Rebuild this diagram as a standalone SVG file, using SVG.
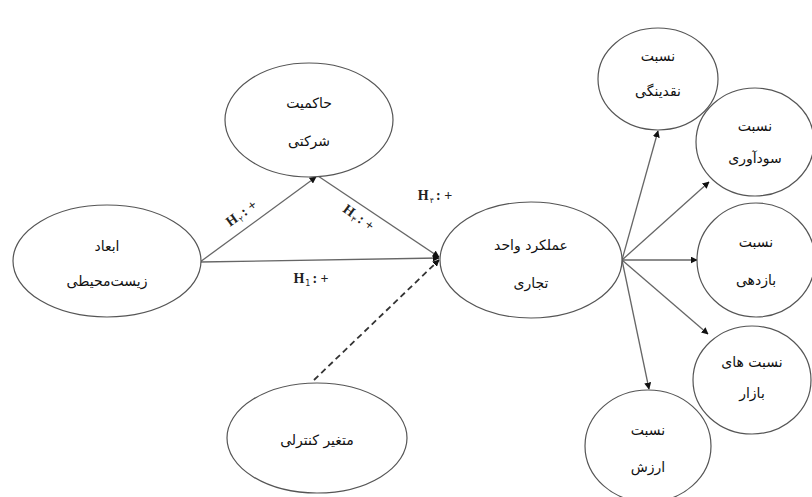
<svg xmlns="http://www.w3.org/2000/svg" width="812" height="497" viewBox="0 0 812 497">
<defs>
<marker id="ah" viewBox="0 0 10 10" refX="9" refY="5" markerWidth="7" markerHeight="7" orient="auto" markerUnits="userSpaceOnUse">
<path d="M0,0 L10,5 L0,10 z" fill="#111"/>
</marker>
<style>
.n{fill:#fff;stroke:#555;stroke-width:1.2}
.t{font-family:"DejaVu Sans",sans-serif;font-size:14px;fill:#111;text-anchor:middle;dominant-baseline:central}
.c{stroke:#666;stroke-width:1.3;fill:none}
.d{stroke:#333;stroke-width:1.8;fill:none;stroke-dasharray:6,4}
.h{font-family:"Liberation Serif","DejaVu Serif",serif;font-size:14px;font-weight:bold;fill:#222}
.s{font-family:"DejaVu Sans",sans-serif;font-size:8px;font-weight:normal}
</style>
</defs>
<rect width="812" height="497" fill="#fff"/>
<g id="connectors">
<line class="c" x1="200" y1="262" x2="316" y2="177" marker-end="url(#ah)"/>
<line class="c" x1="200" y1="262" x2="439" y2="258" marker-end="url(#ah)"/>
<line class="c" x1="318" y1="176" x2="439" y2="257" marker-end="url(#ah)"/>
<line class="d" x1="314" y1="380" x2="439" y2="260" marker-end="url(#ah)"/>
<line class="c" x1="622" y1="260" x2="658" y2="131" marker-end="url(#ah)"/>
<line class="c" x1="622" y1="260" x2="709" y2="182" marker-end="url(#ah)"/>
<line class="c" x1="622" y1="260" x2="697" y2="260" marker-end="url(#ah)"/>
<line class="c" x1="622" y1="260" x2="708" y2="334" marker-end="url(#ah)"/>
<line class="c" x1="622" y1="260" x2="649" y2="389" marker-end="url(#ah)"/>
<text class="h" transform="translate(244,217) rotate(-36)" text-anchor="middle">H<tspan class="s" dx="1" dy="3">۲</tspan><tspan dx="2" dy="-3">: +</tspan></text>
<text class="h" transform="translate(356,221) rotate(36)" text-anchor="middle">H<tspan class="s" dx="1" dy="3">۳</tspan><tspan dx="2" dy="-3">: +</tspan></text>
<text class="h" x="435" y="200" text-anchor="middle">H<tspan class="s" dx="1" dy="3">۴</tspan><tspan dx="2" dy="-3">: +</tspan></text>
<text class="h" x="311" y="283" text-anchor="middle">H<tspan class="s" dx="1" dy="3">1</tspan><tspan dx="2" dy="-3">: +</tspan></text>
</g>
<g id="env">
<ellipse class="n" cx="107" cy="261" rx="94" ry="56"/>
<text class="t" x="107" y="246">ابعاد</text>
<text class="t" x="107" y="281">زیست‌محیطی</text>
</g>
<g id="gov">
<ellipse class="n" cx="309" cy="120" rx="84" ry="57"/>
<text class="t" x="309" y="103">حاکمیت</text>
<text class="t" x="309" y="141">شرکتی</text>
</g>
<g id="perf">
<ellipse class="n" cx="531" cy="260" rx="91" ry="58"/>
<text class="t" x="531" y="245">عملکرد واحد</text>
<text class="t" x="531" y="283">تجاری</text>
</g>
<g id="control">
<ellipse class="n" cx="317" cy="438" rx="90" ry="55"/>
<text class="t" x="317" y="440">متغیر کنترلی</text>
</g>
<g id="liq">
<ellipse class="n" cx="658" cy="79" rx="60" ry="51"/>
<text class="t" x="658" y="56">نسبت</text>
<text class="t" x="658" y="91">نقدینگی</text>
</g>
<g id="prof">
<ellipse class="n" cx="755" cy="142" rx="59" ry="54"/>
<text class="t" x="755" y="126">نسبت</text>
<text class="t" x="755" y="158">سودآوری</text>
</g>
<g id="ret">
<ellipse class="n" cx="756" cy="260" rx="59" ry="57"/>
<text class="t" x="756" y="242">نسبت</text>
<text class="t" x="756" y="280">بازدهی</text>
</g>
<g id="mkt">
<ellipse class="n" cx="752" cy="380" rx="59" ry="54"/>
<text class="t" x="752" y="362">نسبت های</text>
<text class="t" x="752" y="393">بازار</text>
</g>
<g id="val">
<ellipse class="n" cx="648" cy="446" rx="63" ry="56"/>
<text class="t" x="648" y="430">نسبت</text>
<text class="t" x="648" y="467">ارزش</text>
</g>
</svg>
